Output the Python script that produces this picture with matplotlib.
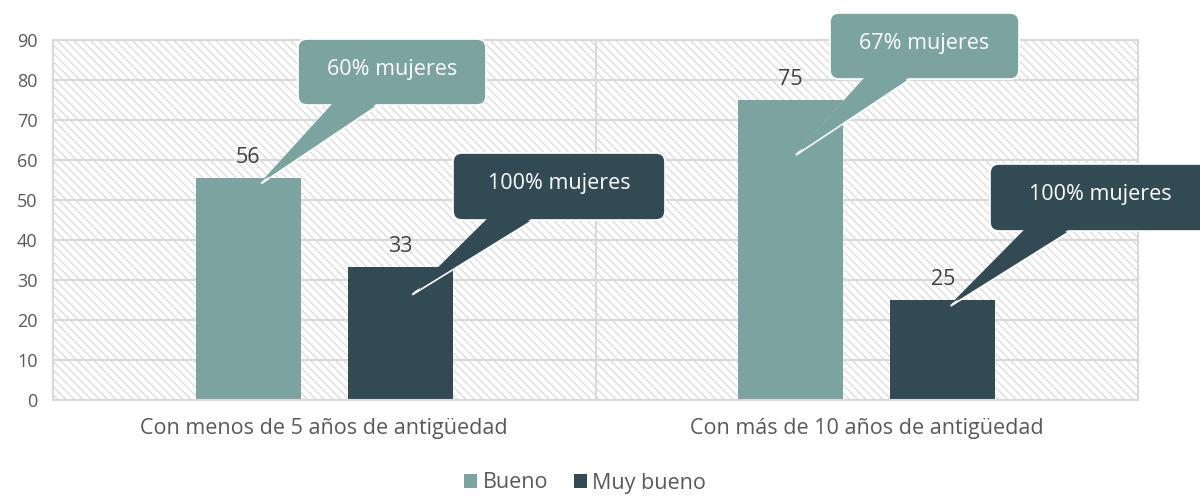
import matplotlib
matplotlib.use("Agg")
import matplotlib.pyplot as plt
import numpy as np
from matplotlib.patches import FancyBboxPatch, Polygon, Rectangle, Patch
from matplotlib.transforms import IdentityTransform

# ---- data ----
categories = ["Con menos de 5 años de antigüedad", "Con más de 10 años de antigüedad"]
series_names = ["Bueno", "Muy bueno"]
bueno = [55.6, 75.0]
muy_bueno = [33.3, 25.0]
callouts_bueno = ["60% mujeres", "67% mujeres"]
callouts_muy_bueno = ["100% mujeres", "100% mujeres"]
y_ticks = [0, 10, 20, 30, 40, 50, 60, 70, 80, 90]

# ---- style ----
C_BUENO = "#7BA39F"
C_MUY = "#324A53"
C_GRID = "#D9D9D9"
C_TEXT = "#595959"
plt.rcParams["font.family"] = ["Open Sans", "DejaVu Sans"]
plt.rcParams["hatch.linewidth"] = 1.0

W, H = 1200, 496
fig = plt.figure(figsize=(W / 100, H / 100), dpi=100)
ax = fig.add_axes([53 / W, 96 / H, 1085 / W, 360 / H])

x = np.arange(len(categories))
off = 0.14
bw = 0.194

# hatched background
bg = Rectangle((0, 0), 1, 1, transform=ax.transAxes, facecolor="white",
               edgecolor="#DEDEDE", hatch="\\\\\\\\", linewidth=0, zorder=0)
ax.add_patch(bg)

b1 = ax.bar(x - off, bueno, bw, color=C_BUENO, zorder=2, label=series_names[0])
b2 = ax.bar(x + off, muy_bueno, bw, color=C_MUY, zorder=2, label=series_names[1])

ax.set_xlim(-0.5, len(categories) - 0.5)
ax.set_ylim(0, 90)
ax.set_yticks(y_ticks)
ax.set_axisbelow(True)
ax.yaxis.grid(True, color=C_GRID, linewidth=1.5, zorder=0.5)
for xv in np.arange(0.5, len(categories) - 0.5, 1):
    ax.axvline(xv, color=C_GRID, linewidth=1.5, zorder=0.5)
for s in ax.spines.values():
    s.set_color(C_GRID)
    s.set_linewidth(1.5)
ax.tick_params(axis="both", length=0)
ax.tick_params(axis="y", labelsize=13, labelcolor=C_TEXT, pad=11)
ax.set_xticks(x)
ax.set_xticklabels(categories)
ax.tick_params(axis="x", labelsize=15.5, labelcolor=C_TEXT, pad=13)

for bars in (b1, b2):
    ax.bar_label(bars, labels=[f"{v:.0f}" for v in bars.datavalues],
                 padding=7, fontsize=15.5, color="#404040")

# ---- callouts (layout in figure pixels, tip anchored to bars) ----
fig.canvas.draw()


def to_disp(px, py):
    return px, H - py


def callout(bar_x, bar_val, tip_dx, tip_dv, box, text, color):
    tx, ty = ax.transData.transform((bar_x, bar_val - tip_dv))
    tx += tip_dx
    l, t, r, b = box
    L, T = to_disp(l, t)
    R, B = to_disp(r, b)
    base = [(L + 35, B + 1), (L + 82, B + 1)]
    wedge_e = Polygon([base[0], base[1], (tx, ty)], closed=True, transform=IdentityTransform(),
                      facecolor=color, edgecolor="white", linewidth=1.2, zorder=5)
    fig.add_artist(wedge_e)
    rb = FancyBboxPatch((L, B), R - L, T - B, boxstyle="round,pad=0,rounding_size=9",
                        transform=IdentityTransform(), facecolor=color,
                        edgecolor="white", linewidth=1.2, zorder=6)
    fig.add_artist(rb)
    wedge_f = Polygon([(L + 35.8, B + 3), (L + 81.2, B + 3), (tx, ty + 2)], closed=True,
                      transform=IdentityTransform(), facecolor=color,
                      edgecolor="none", zorder=7)
    fig.add_artist(wedge_f)
    fig.text((L + R) / 2 / W, (T + B) / 2 / H + 0.006, text, ha="center", va="center",
             fontsize=15.5, color="white", zorder=8)


bueno_boxes = [(298, 39, 486, 105), (830, 13, 1019, 79)]
bueno_tips = [(13, 1.5), (5, 13.8)]
muy_boxes = [(453, 153, 665, 220), (990, 164, 1210, 231)]
muy_tips = [(12, 7.0), (8, 1.5)]

for i in range(len(categories)):
    callout(x[i] - off, bueno[i], bueno_tips[i][0], bueno_tips[i][1],
            bueno_boxes[i], callouts_bueno[i], C_BUENO)
    callout(x[i] + off, muy_bueno[i], muy_tips[i][0], muy_tips[i][1],
            muy_boxes[i], callouts_muy_bueno[i], C_MUY)

handles = [Patch(facecolor=C_BUENO, label=series_names[0]),
           Patch(facecolor=C_MUY, label=series_names[1])]
fig.legend(handles=handles, loc="center", bbox_to_anchor=(585 / W, 1 - 483 / H),
           ncol=2, frameon=False, fontsize=15.5, handlelength=0.6, handleheight=0.6,
           handletextpad=0.25, columnspacing=1.2, labelcolor=C_TEXT)

fig.savefig("out.png", dpi=100)
